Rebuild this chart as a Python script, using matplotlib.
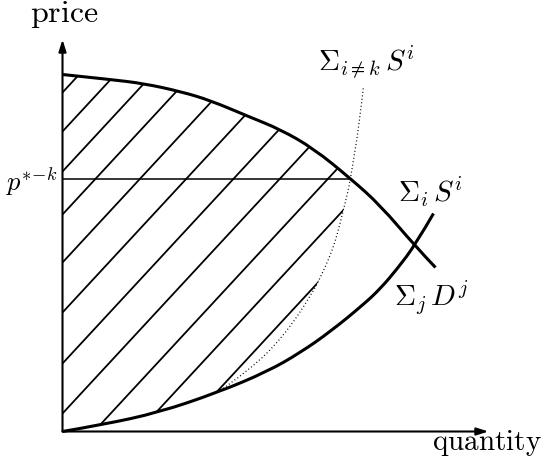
import numpy as np
import matplotlib
matplotlib.use('Agg')
import matplotlib.pyplot as plt
from matplotlib.patches import Polygon, PathPatch
from matplotlib.path import Path

plt.rcParams['mathtext.fontset'] = 'cm'

# decreasing curve (labelled sum_i S^i)
sx = [0, 48, 81, 118, 148, 186, 218, 251, 288, 318, 353, 373]
sy = [357, 352, 348, 340, 331, 315, 302, 283, 253, 226, 185, 164]
# increasing curve (labelled sum_j D^j)
dx = [0, 41, 96, 155, 205, 238, 268, 301, 318, 335, 353, 371]
dy = [0, 7, 19, 39, 60, 79, 100, 127, 143, 163, 187, 218]
# dotted curve sum_{i!=k} S^i
ox = [155, 188, 221, 250, 263, 270, 275, 280, 285, 288, 291, 296, 301]
oy = [39, 62, 95, 138, 165, 182, 198, 218, 238, 253, 272, 302, 345]

pstar = 253
qstar = 288
hatch_b = [339, 300, 260, 217, 169, 119, 68, 18, -34, -82, -127]
hatch_slope = 1.08


def smooth(x, y):
    # quadratic bezier through midpoints, read points act as control points
    p = np.column_stack([x, y]).astype(float)
    verts = [p[0]]
    codes = [Path.MOVETO]
    for i in range(1, len(p) - 1):
        mid = (p[i] + p[i + 1]) / 2 if i < len(p) - 2 else p[i + 1]
        verts += [p[i], mid]
        codes += [Path.CURVE3, Path.CURVE3]
    return Path(verts, codes)


fig = plt.figure(figsize=(5.45, 4.68), dpi=100)
ax = fig.add_axes([0, 0, 1, 1])
ax.set_xlim(-62.5, 482.5)
ax.set_ylim(-36.5, 431.5)
ax.axis('off')

# hatched area
sx_a, sy_a = np.array(sx), np.array(sy)
ox_a, oy_a = np.array(ox), np.array(oy)
dx_a, dy_a = np.array(dx), np.array(dy)
top = np.column_stack([sx_a[sx_a <= qstar], sy_a[sx_a <= qstar]])
right = np.column_stack([ox_a[oy_a <= pstar], oy_a[oy_a <= pstar]])[::-1]
bot = np.column_stack([dx_a[dx_a <= ox[0]], dy_a[dx_a <= ox[0]]])[::-1]
pts = np.vstack([[[0, 0]], top, right, bot])
region = Polygon(pts, closed=True, fill=False, lw=0)
ax.add_patch(region)
xs = np.array([-10, 400])
for b in hatch_b:
    ln, = ax.plot(xs, b + hatch_slope * xs, color='k', lw=1.3)
    ln.set_clip_path(region)

ax.plot([0, qstar], [pstar, pstar], color='k', lw=1.1)

ax.add_patch(PathPatch(smooth(sx, sy), fill=False, lw=2.2, ec='k', capstyle='butt'))
ax.add_patch(PathPatch(smooth(dx, dy), fill=False, lw=2.2, ec='k', capstyle='butt'))
ax.add_patch(PathPatch(smooth(ox, oy), fill=False, lw=0.9, ec='k', linestyle=(0, (0.8, 2))))

# axes
ap = dict(arrowstyle='-|>,head_length=0.7,head_width=0.22', lw=1.5, color='k',
          shrinkA=0, shrinkB=0)
ax.annotate('', xy=(0, 392), xytext=(0, 0), arrowprops=ap)
ax.annotate('', xy=(426, 0), xytext=(0, 0), arrowprops=ap)

ax.text(-32, 409, r'$\mathrm{price}$', fontsize=23, ha='left', va='baseline')
ax.text(370, -18, r'$\mathrm{quantity}$', fontsize=21, ha='left', va='baseline')
ax.text(-57, 240, r'$p^{*\!-\!k}$', fontsize=19, ha='left', va='baseline')
ax.text(255, 362, r'$\Sigma_{i\neq k}\, S^i$', fontsize=21, ha='left', va='baseline')
ax.text(336, 229, r'$\Sigma_i\, S^i$', fontsize=21, ha='left', va='baseline')
ax.text(331, 126, r'$\Sigma_j\, D^j$', fontsize=21, ha='left', va='baseline')

fig.savefig('out.png', dpi=100)
